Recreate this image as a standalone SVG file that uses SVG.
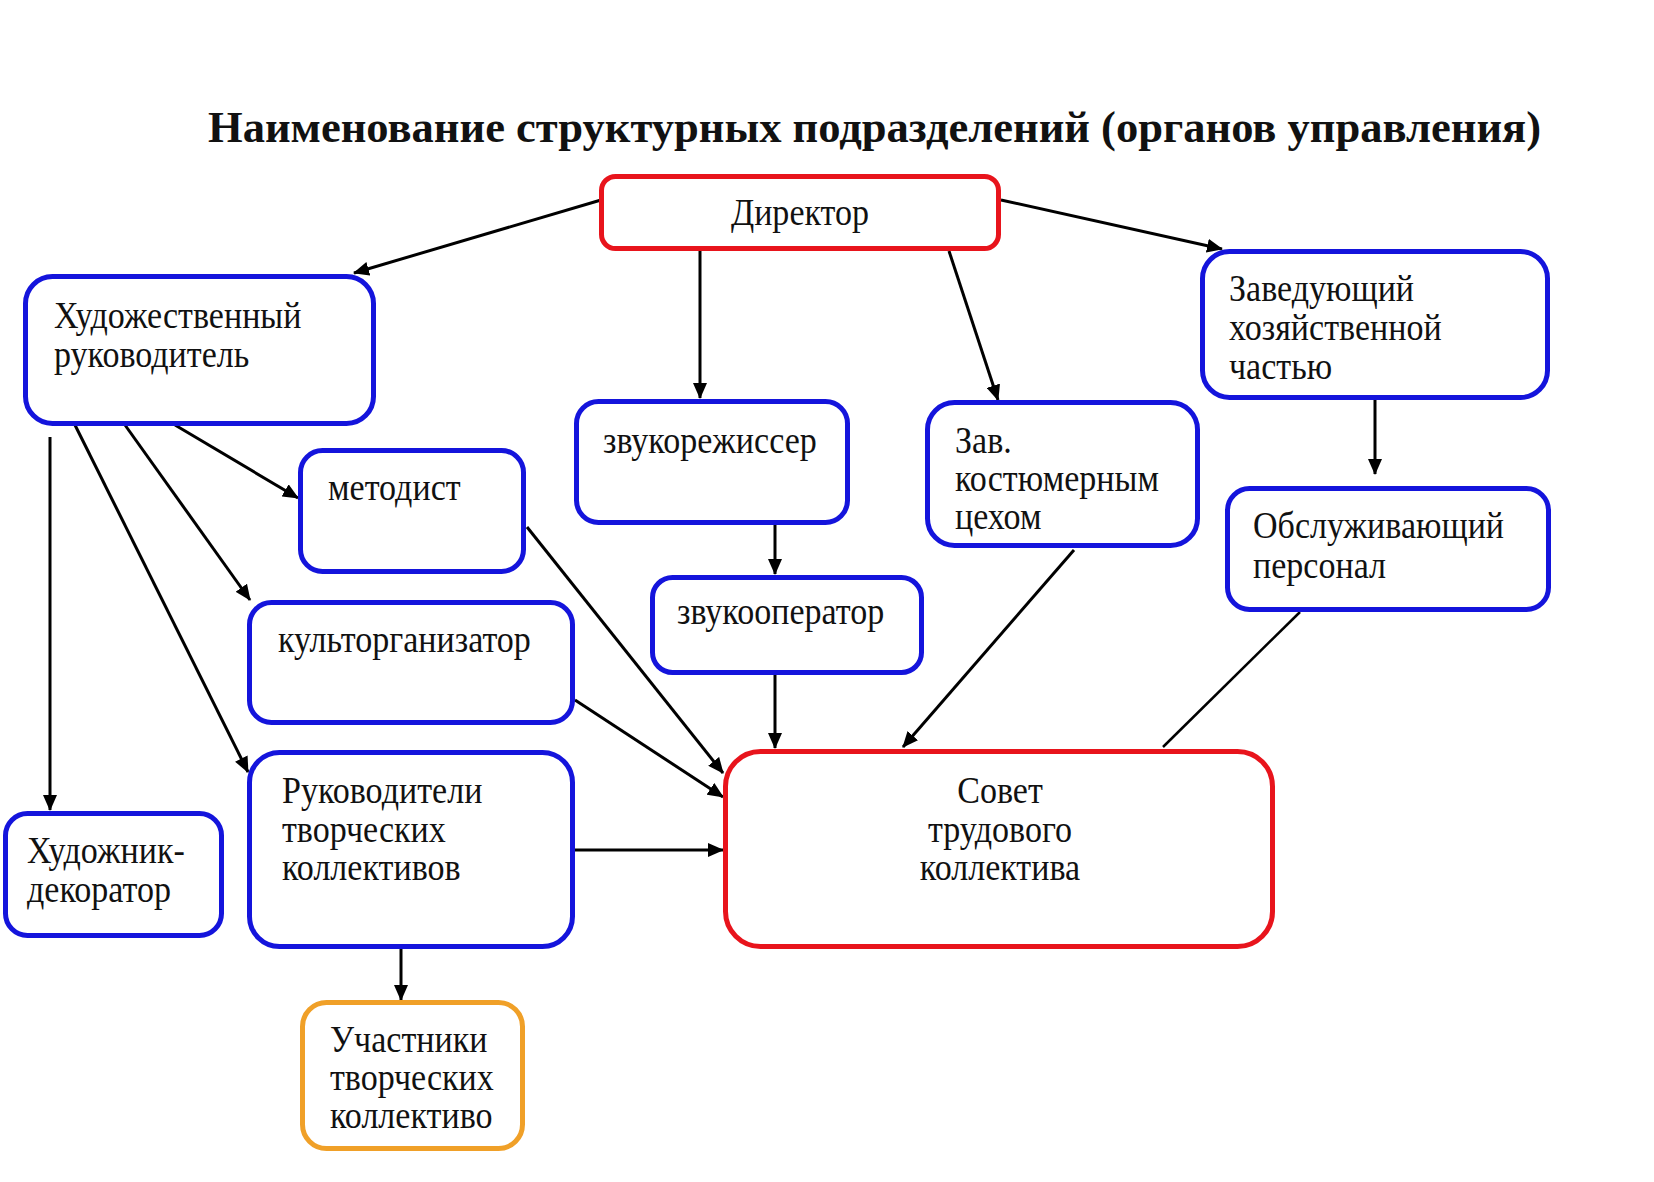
<svg xmlns="http://www.w3.org/2000/svg" width="1654" height="1182" viewBox="0 0 1654 1182">
<defs>
<style>
.bg{fill:#ffffff}
.box{fill:#ffffff;stroke-width:5}
.blue{stroke:#1414DC}
.red{stroke:#E8141C}
.orange{stroke:#F0A028}
.t{font-family:"Liberation Serif","Times New Roman",serif;font-size:37px;fill:#111111}
.title{font-family:"Liberation Serif","Times New Roman",serif;font-size:45px;font-weight:bold;fill:#111111}
.c{stroke:#000000;stroke-width:3;fill:none}
.thin{stroke:#000000;stroke-width:2.5;fill:none}
</style>
<marker id="ah" viewBox="0 0 16 14" refX="15" refY="7" markerWidth="16" markerHeight="14" markerUnits="userSpaceOnUse" orient="auto">
<path d="M0,0 L16,7 L0,14 z" fill="#000000"/>
</marker>
</defs>
<rect class="bg" x="0" y="0" width="1654" height="1182"/>
<text class="title" x="208" y="142" textLength="1333" lengthAdjust="spacingAndGlyphs">Наименование структурных подразделений (органов управления)</text>

<g id="connectors">
<line class="c" x1="601" y1="200" x2="354" y2="273" marker-end="url(#ah)"/>
<line class="c" x1="700" y1="251" x2="700" y2="398" marker-end="url(#ah)"/>
<line class="c" x1="1001" y1="200" x2="1222" y2="249" marker-end="url(#ah)"/>
<line class="c" x1="949" y1="251" x2="998" y2="400" marker-end="url(#ah)"/>
<line class="c" x1="1375" y1="400" x2="1375" y2="474" marker-end="url(#ah)"/>
<line class="c" x1="175" y1="425" x2="298" y2="498" marker-end="url(#ah)"/>
<line class="c" x1="125" y1="425" x2="250" y2="600" marker-end="url(#ah)"/>
<line class="c" x1="75" y1="425" x2="248" y2="772" marker-end="url(#ah)"/>
<line class="c" x1="50" y1="437" x2="50" y2="810" marker-end="url(#ah)"/>
<line class="c" x1="527" y1="527" x2="723" y2="773" marker-end="url(#ah)"/>
<line class="c" x1="575" y1="700" x2="723" y2="797" marker-end="url(#ah)"/>
<line class="c" x1="575" y1="850" x2="723" y2="850" marker-end="url(#ah)"/>
<line class="c" x1="775" y1="675" x2="775" y2="748" marker-end="url(#ah)"/>
<line class="c" x1="775" y1="523" x2="775" y2="574" marker-end="url(#ah)"/>
<line class="c" x1="1074" y1="550" x2="903" y2="747" marker-end="url(#ah)"/>
<line class="thin" x1="1300" y1="612" x2="1163" y2="747"/>
<line class="c" x1="401" y1="949" x2="401" y2="1000" marker-end="url(#ah)"/>
</g>

<g id="director">
<rect class="box red" x="601.5" y="176.5" width="397" height="72" rx="14"/>
<text class="t" text-anchor="middle" transform="translate(800,225) scale(0.92,1)">Директор</text>
</g>

<g id="art-director">
<rect class="box blue" x="25.5" y="276.5" width="348" height="147" rx="27"/>
<text class="t" transform="translate(54,328) scale(0.92,1)"><tspan x="0" y="0">Художественный</tspan><tspan x="0" y="39">руководитель</tspan></text>
</g>

<g id="methodist">
<rect class="box blue" x="300.5" y="450.5" width="223" height="121" rx="22"/>
<text class="t" transform="translate(328,500) scale(0.92,1)">методист</text>
</g>

<g id="sound-director">
<rect class="box blue" x="576.5" y="401.5" width="271" height="121" rx="22"/>
<text class="t" transform="translate(603,453) scale(0.92,1)">звукорежиссер</text>
</g>

<g id="sound-operator">
<rect class="box blue" x="652.5" y="577.5" width="269" height="95" rx="20"/>
<text class="t" transform="translate(677,624) scale(0.92,1)">звукооператор</text>
</g>

<g id="culture-organizer">
<rect class="box blue" x="249.5" y="602.5" width="323" height="120" rx="22"/>
<text class="t" transform="translate(278,652) scale(0.92,1)">культорганизатор</text>
</g>

<g id="group-leaders">
<rect class="box blue" x="249.5" y="752.5" width="323" height="194" rx="30"/>
<text class="t" transform="translate(282,803) scale(0.92,1)"><tspan x="0" y="0">Руководители</tspan><tspan x="0" y="39">творческих</tspan><tspan x="0" y="77">коллективов</tspan></text>
</g>

<g id="artist-decorator">
<rect class="box blue" x="5.5" y="813.5" width="216" height="122" rx="22"/>
<text class="t" transform="translate(27,863) scale(0.92,1)"><tspan x="0" y="0">Художник-</tspan><tspan x="0" y="39">декоратор</tspan></text>
</g>

<g id="participants">
<rect class="box orange" x="302.5" y="1002.5" width="220" height="146" rx="24"/>
<text class="t" transform="translate(330,1052) scale(0.92,1)"><tspan x="0" y="0">Участники</tspan><tspan x="0" y="38">творческих</tspan><tspan x="0" y="76">коллективо</tspan></text>
</g>

<g id="labor-council">
<rect class="box red" x="725.5" y="751.5" width="547" height="195" rx="35"/>
<text class="t" text-anchor="middle" transform="translate(1000,803) scale(0.92,1)"><tspan x="0" y="0">Совет</tspan><tspan x="0" y="39">трудового</tspan><tspan x="0" y="77">коллектива</tspan></text>
</g>

<g id="household-head">
<rect class="box blue" x="1202.5" y="251.5" width="345" height="146" rx="27"/>
<text class="t" transform="translate(1229,301) scale(0.92,1)"><tspan x="0" y="0">Заведующий</tspan><tspan x="0" y="39">хозяйственной</tspan><tspan x="0" y="78">частью</tspan></text>
</g>

<g id="costume-head">
<rect class="box blue" x="927.5" y="402.5" width="270" height="143" rx="27"/>
<text class="t" transform="translate(955,453) scale(0.92,1)"><tspan x="0" y="0">Зав.</tspan><tspan x="0" y="38">костюмерным</tspan><tspan x="0" y="76">цехом</tspan></text>
</g>

<g id="service-staff">
<rect class="box blue" x="1227.5" y="488.5" width="321" height="121" rx="22"/>
<text class="t" transform="translate(1253,538) scale(0.92,1)"><tspan x="0" y="0">Обслуживающий</tspan><tspan x="0" y="40">персонал</tspan></text>
</g>
</svg>
